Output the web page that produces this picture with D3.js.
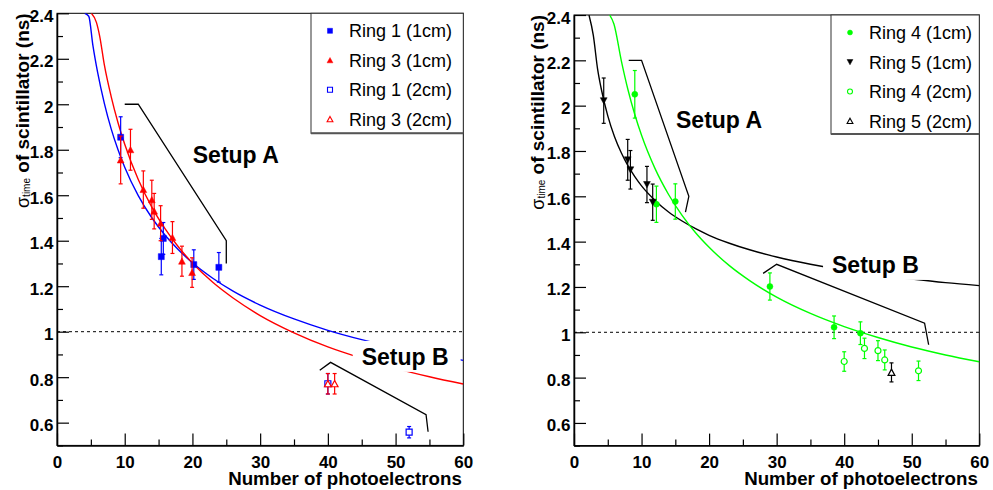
<!DOCTYPE html>
<html><head><meta charset="utf-8">
<script src="https://cdn.jsdelivr.net/npm/d3@7"></script>
<style>
html,body{margin:0;padding:0;background:#fff;}
svg{display:block;font-family:"Liberation Sans",Arial,Helvetica,sans-serif;}
</style></head>
<body>
<svg id="chart" width="993" height="490"></svg>
<script>
// ---------------- DATA ----------------
const xMajorTicks = [0, 10, 20, 30, 40, 50, 60];
const xMinorTicks = [5, 15, 25, 35, 45, 55];
const yMajorTicks = [0.6, 0.8, 1, 1.2, 1.4, 1.6, 1.8, 2, 2.2, 2.4];
const yMinorTicks = [0.5, 0.7, 0.9, 1.1, 1.3, 1.5, 1.7, 1.9, 2.1, 2.3];
const yTickLabels = ["0.6", "0.8", "1", "1.2", "1.4", "1.6", "1.8", "2", "2.2", "2.4"];
const xTitle = "Number of photoelectrons";
const refLine = 1.0;

// Left panel
const ring1_1cm_N     = [9.4, 15.4, 15.7, 20.2, 23.9];
const ring1_1cm_sigma = [1.855, 1.33, 1.41, 1.295, 1.283];
const ring1_1cm_err   = [0.09, 0.08, 0.07, 0.065, 0.065];

const ring3_1cm_N     = [9.4, 10.85, 12.75, 14.0, 14.35, 15.3, 17.05, 18.45, 19.95];
const ring3_1cm_sigma = [1.755, 1.80, 1.625, 1.58, 1.53, 1.477, 1.414, 1.31, 1.26];
const ring3_1cm_err   = [0.105, 0.09, 0.082, 0.086, 0.078, 0.077, 0.07, 0.066, 0.065];

const ring1_2cm_N     = [40.0, 52.0];
const ring1_2cm_sigma = [0.771, 0.558];
const ring1_2cm_err   = [0.045, 0.025];

const ring3_2cm_N     = [40.0, 41.0];
const ring3_2cm_sigma = [0.771, 0.771];
const ring3_2cm_err   = [0.045, 0.045];

const fitBlueA_N     = [4.1, 4.69, 5.3, 6, 7, 8, 9, 10, 12, 14, 16, 18, 20, 23, 26, 30, 35, 40, 45, 50, 55, 60];
const fitBlueA_sigma = [2.40, 2.387, 2.259, 2.140, 2.003, 1.892, 1.801, 1.723, 1.598, 1.501, 1.423, 1.358, 1.303, 1.235, 1.178, 1.117, 1.056, 1.006, 0.965, 0.930, 0.901, 0.874];
const fitRedA_N      = [5.08, 5.82, 6.3, 7, 8, 9, 10, 12, 14, 16, 18, 20, 23, 26, 30, 35, 40, 45, 50, 55, 60];
const fitRedA_sigma  = [2.40, 2.36, 2.30, 2.172, 2.034, 1.920, 1.824, 1.669, 1.548, 1.451, 1.370, 1.302, 1.217, 1.148, 1.071, 0.995, 0.933, 0.883, 0.839, 0.802, 0.770];

// Right panel
const ring4_1cm_N     = [9.0, 12.2, 15.0, 29.0, 38.5, 42.4];
const ring4_1cm_sigma = [2.05, 1.565, 1.577, 1.202, 1.022, 0.996];
const ring4_1cm_err   = [0.105, 0.08, 0.078, 0.06, 0.05, 0.05];

const ring5_1cm_N     = [4.4, 7.95, 8.35, 10.8, 11.65];
const ring5_1cm_sigma = [2.022, 1.761, 1.717, 1.652, 1.574];
const ring5_1cm_err   = [0.1, 0.09, 0.085, 0.08, 0.08];

const ring4_2cm_N     = [40.0, 43.0, 45.0, 46.0, 51.0];
const ring4_2cm_sigma = [0.871, 0.929, 0.919, 0.878, 0.83];
const ring4_2cm_err   = [0.043, 0.045, 0.044, 0.044, 0.043];

const ring5_2cm_N     = [47.0];
const ring5_2cm_sigma = [0.823];
const ring5_2cm_err   = [0.042];

const fitBlackB_N     = [2.22, 2.86, 3.5, 4, 5, 6, 7, 8, 9, 10, 12, 14, 16, 18, 20, 23, 26, 30, 35, 40, 45, 50, 55, 60];
const fitBlackB_sigma = [2.40, 2.31, 2.160, 2.079, 1.955, 1.863, 1.792, 1.734, 1.687, 1.646, 1.582, 1.531, 1.491, 1.457, 1.428, 1.393, 1.364, 1.332, 1.300, 1.274, 1.253, 1.235, 1.219, 1.206];
const fitGreenB_N     = [5.28, 5.91, 7, 8, 9, 10, 12, 14, 16, 18, 20, 23, 26, 30, 35, 40, 45, 50, 55, 60];
const fitGreenB_sigma = [2.40, 2.36, 2.199, 2.069, 1.961, 1.869, 1.722, 1.608, 1.516, 1.439, 1.375, 1.294, 1.228, 1.155, 1.083, 1.025, 0.977, 0.935, 0.900, 0.870];

// Annotation brackets / labels (data coordinates)
const bracketLeftA_N  = [10, 12, 25, 25],       bracketLeftA_sigma  = [2.0, 2.0, 1.4, 1.3];
const bracketLeftB_N  = [38.8, 40.4, 54.5, 54.8], bracketLeftB_sigma = [0.83, 0.865, 0.635, 0.56];
const bracketRightA_N = [8.1, 10, 17, 16.5],    bracketRightA_sigma = [2.2, 2.2, 1.6, 1.53];
const bracketRightB_N = [28, 30, 51.9, 52.5],   bracketRightB_sigma = [1.26, 1.30, 1.04, 0.945];
const labelNames = ["Setup A", "Setup B"];
const labelLeft_N = [20.05, 45.0],  labelLeft_sigma = [1.74, 0.854];
const labelRight_N = [15.1, 38.2],  labelRight_sigma = [1.902, 1.262];

// ---------------- DRAW ----------------
const svg = d3.select("#chart");
const FONT = '"Liberation Sans",Arial,Helvetica,sans-serif';
const zip = (a, b, c) => a.map((v, i) => ({n: v, s: b[i], e: c ? c[i] : 0}));

function markerPath(type, size) {
  const h = size / 2;
  if (type === "square") return `M${-h},${-h}H${h}V${h}H${-h}Z`;
  if (type === "tri") return `M0,${-h - 0.3}L${h + 0.4},${h}L${-h - 0.4},${h}Z`;
  if (type === "dtri") return `M0,${h + 0.3}L${h + 0.4},${-h}L${-h - 0.4},${-h}Z`;
  if (type === "circle") return d3.symbol(d3.symbolCircle, Math.PI * h * h)();
}

function drawPanel(cfg) {
  const x = d3.scaleLinear().domain([0, 60]).range([cfg.x0, cfg.x1]);
  const y = d3.scaleLinear().domain([0.5, 2.4]).range([cfg.yBot, cfg.yTop]);
  const g = svg.append("g");
  const clipId = "clip" + cfg.id;
  svg.append("clipPath").attr("id", clipId).append("rect")
    .attr("x", cfg.x0).attr("y", cfg.yTop).attr("width", cfg.x1 - cfg.x0).attr("height", cfg.yBot - cfg.yTop);

  // frame
  g.append("rect").attr("x", cfg.x0).attr("y", cfg.yTop).attr("width", cfg.x1 - cfg.x0).attr("height", cfg.yBot - cfg.yTop)
    .attr("fill", "none").attr("stroke", "#000").attr("stroke-width", 1);

  // axes
  const xAx = g.append("g").attr("transform", `translate(0,${cfg.yBot})`)
    .call(d3.axisBottom(x).tickValues(xMajorTicks).tickSizeInner(-12).tickSizeOuter(0).tickFormat(d3.format("d")));
  g.append("g").attr("transform", `translate(0,${cfg.yBot})`)
    .call(d3.axisBottom(x).tickValues(xMinorTicks).tickSizeInner(-6).tickSizeOuter(0).tickFormat(""))
    .select(".domain").remove();
  xAx.selectAll("text").attr("y", 22.5).attr("dy", null)
    .style("font", `bold 17px ${FONT}`).attr("fill", "#000");
  const yAx = g.append("g").attr("transform", `translate(${cfg.x0},0)`)
    .call(d3.axisLeft(y).tickValues(yMajorTicks).tickSizeInner(-12).tickSizeOuter(0)
      .tickFormat((d, i) => yTickLabels[i]));
  g.append("g").attr("transform", `translate(${cfg.x0},0)`)
    .call(d3.axisLeft(y).tickValues(yMinorTicks).tickSizeInner(-6).tickSizeOuter(0).tickFormat(""))
    .select(".domain").remove();
  yAx.selectAll("text").attr("x", -3.5).attr("dy", 8)
    .style("font", `bold 17px ${FONT}`).attr("fill", "#000");
  g.selectAll(".domain").attr("stroke-width", 1.5);
  g.selectAll(".tick line").attr("stroke-width", 1.2);

  // axis titles
  g.append("text").attr("x", cfg.x1 - 1.5).attr("y", 485).attr("text-anchor", "end")
    .style("font", `bold 18.7px ${FONT}`).text(xTitle);
  const yt = g.append("text").attr("transform", `translate(${cfg.titleX},${cfg.yTop}) rotate(-90)`)
    .attr("text-anchor", "end");
  yt.append("tspan").style("font", `18px ${FONT}`).text("σ");
  yt.append("tspan").style("font", `10px ${FONT}`).attr("dy", 1).text("time");
  yt.append("tspan").style("font", `bold 19px ${FONT}`).attr("dy", -1).text(" of scintillator (ns)");

  // dashed reference line
  g.append("line").attr("x1", cfg.x0).attr("x2", cfg.x1).attr("y1", y(refLine)).attr("y2", y(refLine))
    .attr("stroke", "#000").attr("stroke-width", 1).attr("stroke-dasharray", "3,3");

  // fits
  const lineGen = d3.line().x(d => x(d.n)).y(d => y(d.s)).curve(d3.curveMonotoneX);
  const curves = g.append("g").attr("clip-path", `url(#${clipId})`);
  cfg.fits.forEach(f => {
    curves.append("path").attr("d", lineGen(zip(f.N, f.S))).attr("fill", "none")
      .attr("stroke", f.color).attr("stroke-width", 1.4);
  });

  // label boxes + labels
  cfg.labels.forEach(l => {
    const t = g.append("text").attr("x", x(l.n)).attr("y", y(l.s))
      .style("font", `bold 23px ${FONT}`).text(l.text);
    if (l.box) {
      const bb = t.node().getBBox();
      g.insert("rect", () => t.node()).attr("x", bb.x - 9).attr("y", y(l.s) - 24).attr("width", bb.width + 21)
        .attr("height", 31).attr("fill", "#fff");
    }
  });

  // brackets
  const bLine = d3.line().x(d => x(d.n)).y(d => y(d.s));
  cfg.brackets.forEach(b => {
    g.append("path").attr("d", bLine(zip(b.N, b.S))).attr("fill", "none")
      .attr("stroke", "#000").attr("stroke-width", 1.3);
  });

  // data series
  cfg.series.forEach(sr => {
    const pts = zip(sr.N, sr.S, sr.E);
    const sg = g.append("g");
    pts.forEach(p => {
      const cx = x(p.n), y1 = y(p.s + p.e), y2 = y(p.s - p.e);
      sg.append("line").attr("x1", cx).attr("x2", cx).attr("y1", y1).attr("y2", y2)
        .attr("stroke", sr.color).attr("stroke-width", 1.2);
      [y1, y2].forEach(yy => sg.append("line").attr("x1", cx - 2).attr("x2", cx + 2).attr("y1", yy).attr("y2", yy)
        .attr("stroke", sr.color).attr("stroke-width", 1.2));
      sg.append("path").attr("d", markerPath(sr.shape, 6)).attr("transform", `translate(${cx},${y(p.s)})`)
        .attr("fill", sr.open ? "#fff" : sr.color).attr("stroke", sr.color).attr("stroke-width", sr.open ? 1.2 : 0.5);
    });
  });

  // legend
  const L = cfg.legend;
  const lg = g.append("g");
  lg.append("rect").attr("x", L.x).attr("y", L.y).attr("width", L.w).attr("height", L.h)
    .attr("fill", "#fff").attr("stroke", "#333").attr("stroke-width", 1);
  lg.append("line").attr("x1", L.x).attr("x2", L.x + L.w).attr("y1", L.y + L.h).attr("y2", L.y + L.h)
    .attr("stroke", "#555").attr("stroke-width", 2);
  cfg.series.forEach((sr, i) => {
    const cy = L.y + 17.5 + i * 29.5;
    lg.append("path").attr("d", markerPath(sr.shape, 5)).attr("transform", `translate(${L.x + 19},${cy})`)
      .attr("fill", sr.open ? "#fff" : sr.color).attr("stroke", sr.color).attr("stroke-width", sr.open ? 1.1 : 0.5);
    lg.append("text").attr("x", L.x + 38).attr("y", cy + 6.5).style("font", `18px ${FONT}`).text(sr.name);
  });
}

drawPanel({
  id: "L", x0: 57, x1: 463.3, yTop: 13.3, yBot: 445.4, titleX: 28.5,
  fits: [
    {N: fitBlueA_N, S: fitBlueA_sigma, color: "#0000ff"},
    {N: fitRedA_N, S: fitRedA_sigma, color: "#ff0000"}
  ],
  labels: [
    {text: labelNames[0], n: labelLeft_N[0], s: labelLeft_sigma[0], box: false},
    {text: labelNames[1], n: labelLeft_N[1], s: labelLeft_sigma[1], box: true}
  ],
  brackets: [
    {N: bracketLeftA_N, S: bracketLeftA_sigma},
    {N: bracketLeftB_N, S: bracketLeftB_sigma}
  ],
  series: [
    {name: "Ring 1 (1cm)", N: ring1_1cm_N, S: ring1_1cm_sigma, E: ring1_1cm_err, color: "#0000ff", shape: "square", open: false},
    {name: "Ring 3 (1cm)", N: ring3_1cm_N, S: ring3_1cm_sigma, E: ring3_1cm_err, color: "#ff0000", shape: "tri", open: false},
    {name: "Ring 1 (2cm)", N: ring1_2cm_N, S: ring1_2cm_sigma, E: ring1_2cm_err, color: "#0000ff", shape: "square", open: true},
    {name: "Ring 3 (2cm)", N: ring3_2cm_N, S: ring3_2cm_sigma, E: ring3_2cm_err, color: "#ff0000", shape: "tri", open: true}
  ],
  legend: {x: 311, y: 13.3, w: 152.3, h: 120}
});

drawPanel({
  id: "R", x0: 574, x1: 979.3, yTop: 15, yBot: 445.6, titleX: 543.5,
  fits: [
    {N: fitBlackB_N, S: fitBlackB_sigma, color: "#000000"},
    {N: fitGreenB_N, S: fitGreenB_sigma, color: "#00ff00"}
  ],
  labels: [
    {text: labelNames[0], n: labelRight_N[0], s: labelRight_sigma[0], box: false},
    {text: labelNames[1], n: labelRight_N[1], s: labelRight_sigma[1], box: true}
  ],
  brackets: [
    {N: bracketRightA_N, S: bracketRightA_sigma},
    {N: bracketRightB_N, S: bracketRightB_sigma}
  ],
  series: [
    {name: "Ring 4 (1cm)", N: ring4_1cm_N, S: ring4_1cm_sigma, E: ring4_1cm_err, color: "#00ff00", shape: "circle", open: false},
    {name: "Ring 5 (1cm)", N: ring5_1cm_N, S: ring5_1cm_sigma, E: ring5_1cm_err, color: "#000000", shape: "dtri", open: false},
    {name: "Ring 4 (2cm)", N: ring4_2cm_N, S: ring4_2cm_sigma, E: ring4_2cm_err, color: "#00ff00", shape: "circle", open: true},
    {name: "Ring 5 (2cm)", N: ring5_2cm_N, S: ring5_2cm_sigma, E: ring5_2cm_err, color: "#000000", shape: "tri", open: true}
  ],
  legend: {x: 831, y: 15, w: 148.3, h: 119}
});
</script>
</body></html>
